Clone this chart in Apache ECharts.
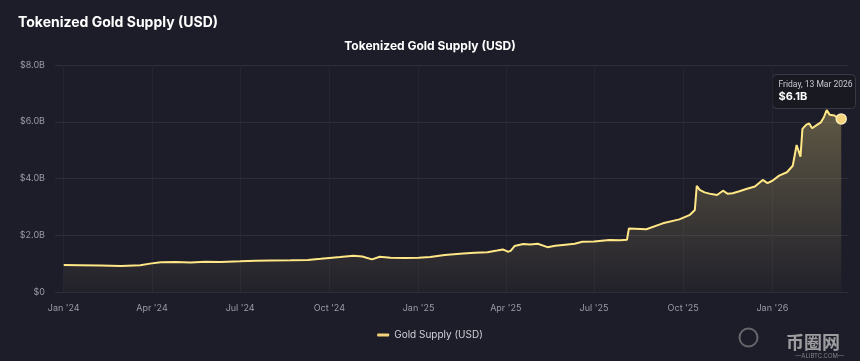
<!DOCTYPE html>
<html>
<head>
<meta charset="utf-8">
<script src="https://cdn.jsdelivr.net/npm/echarts@6/dist/echarts.min.js"></script>
<style>
html,body{margin:0;padding:0;background:#1d1d29;}
#c{width:860px;height:361px;}
</style>
</head>
<body>
<div id="c"></div>
<script>
const dates = [
'2024-01-01','2024-01-18','2024-02-08','2024-02-29','2024-03-20','2024-03-30','2024-04-10','2024-04-25','2024-05-11','2024-05-26',
'2024-06-11','2024-07-01','2024-07-17','2024-08-01','2024-08-22','2024-09-09','2024-09-22','2024-10-01','2024-10-12','2024-10-26',
'2024-11-04','2024-11-14','2024-11-22','2024-12-03','2024-12-18','2025-01-01','2025-01-13','2025-01-28','2025-02-16','2025-02-28',
'2025-03-13','2025-03-23','2025-03-29','2025-04-03','2025-04-06','2025-04-10','2025-04-19','2025-04-26','2025-05-04','2025-05-14',
'2025-05-22','2025-05-30','2025-06-11','2025-06-19','2025-07-01','2025-07-17','2025-07-28','2025-08-04','2025-08-06','2025-08-24',
'2025-09-10','2025-09-27','2025-10-08','2025-10-13','2025-10-15','2025-10-18','2025-10-23','2025-10-30','2025-11-05','2025-11-11',
'2025-11-16','2025-11-21','2025-11-28','2025-12-05','2025-12-14','2025-12-22','2025-12-27','2026-01-01','2026-01-08','2026-01-16',
'2026-01-22','2026-01-26','2026-01-30','2026-02-01','2026-02-05','2026-02-08','2026-02-11','2026-02-16','2026-02-20','2026-02-23',
'2026-02-26','2026-03-01','2026-03-03','2026-03-06','2026-03-09','2026-03-13'
];
const supplyB = [
0.95,0.94,0.93,0.92,0.94,1.00,1.05,1.06,1.04,1.07,
1.06,1.08,1.10,1.11,1.12,1.13,1.17,1.20,1.23,1.28,
1.25,1.15,1.24,1.21,1.20,1.21,1.23,1.30,1.36,1.38,
1.40,1.46,1.50,1.42,1.45,1.62,1.69,1.67,1.70,1.58,
1.63,1.66,1.70,1.77,1.78,1.83,1.82,1.84,2.24,2.21,
2.42,2.56,2.72,2.89,3.74,3.60,3.51,3.45,3.42,3.57,
3.46,3.48,3.55,3.63,3.72,3.95,3.84,3.92,4.10,4.22,
4.45,5.18,4.77,5.75,5.90,5.94,5.77,5.89,5.98,6.15,
6.41,6.25,6.18,6.22,6.15,6.10
];
const quarterTicks = ['2024-01-01','2024-04-01','2024-07-01','2024-10-01','2025-01-01','2025-04-01','2025-07-01','2025-10-01','2026-01-01'];

const MONTHS = ['Jan','Feb','Mar','Apr','May','Jun','Jul','Aug','Sep','Oct','Nov','Dec'];
const DAYS = ['Sunday','Monday','Tuesday','Wednesday','Thursday','Friday','Saturday'];
const ts = s => { const p = s.split('-'); return Date.UTC(+p[0], +p[1]-1, +p[2]); };
const data = dates.map((d,i)=>[ts(d), supplyB[i]]);
const gold = '#f3d27a';
const last = data[data.length-1];
const lastDate = new Date(last[0]);
const tipDate = DAYS[lastDate.getUTCDay()] + ', ' + lastDate.getUTCDate() + ' ' + MONTHS[lastDate.getUTCMonth()] + ' ' + lastDate.getUTCFullYear();
const tipValue = '$' + last[1].toFixed(1) + 'B';

const chart = echarts.init(document.getElementById('c'), null, {renderer:'canvas'});
chart.setOption({
  backgroundColor:'#1d1d29',
  animation:false,
  title:[
    {text:'Tokenized Gold Supply (USD)', left:13, top:11, textStyle:{color:'#ffffff', fontSize:14, fontWeight:'bold', fontFamily:'Inter'}},
    {text:'Tokenized Gold Supply (USD)', left:'center', top:35, textStyle:{color:'#ffffff', fontSize:12, fontWeight:'bold', fontFamily:'Inter'}}
  ],
  grid:{left:55, right:12, top:65, bottom:69, containLabel:false},
  xAxis:{
    type:'value',
    min: ts('2023-12-23'),
    max: ts('2026-03-20'),
    axisLine:{show:false},
    axisTick:{show:false},
    splitLine:{show:false},
    axisLabel:{
      customValues: quarterTicks.map(ts),
      color:'#9a9aa8', fontSize:9, fontFamily:'Inter', margin:12,
      formatter: v => { const d = new Date(v); return MONTHS[d.getUTCMonth()] + " '" + String(d.getUTCFullYear()).slice(2); }
    }
  },
  yAxis:{
    type:'value', min:0, max:8, interval:2,
    axisLine:{show:false}, axisTick:{show:false},
    splitLine:{lineStyle:{color:'#2c2c3a', width:1}},
    axisLabel:{color:'#9a9aa8', fontSize:9, fontFamily:'Inter', margin:10,
      formatter: v => v === 0 ? '$0' : '$' + v.toFixed(1) + 'B'}
  },
  legend:{
    bottom:16, left:'center', itemWidth:12, itemHeight:3,
    icon:'roundRect',
    textStyle:{color:'#d0d0d8', fontSize:10, fontFamily:'Inter'},
    data:['Gold Supply (USD)']
  },
  series:[{
    name:'quarters',
    type:'line',
    data:[],
    z:1,
    silent:true,
    markLine:{
      z:1,
      silent:true, symbol:'none', label:{show:false},
      lineStyle:{color:'#242432', width:1, type:'solid'},
      emphasis:{disabled:true},
      data: quarterTicks.map(q=>({xAxis: ts(q)}))
    }
  },{
    name:'Gold Supply (USD)',
    type:'line',
    z:3,
    data:data,
    showSymbol:false,
    symbol:'circle',
    symbolSize:10,
    lineStyle:{color:gold, width:2},
    itemStyle:{color:gold},
    emphasis:{scale:1, itemStyle:{color:'#f3d27a', borderColor:'#fbe9b8', borderWidth:1.5}},
    areaStyle:{color:new echarts.graphic.LinearGradient(0,0,0,1,[
      {offset:0, color:'rgba(243,210,122,0.42)'},
      {offset:1, color:'rgba(243,210,122,0.03)'}
    ])}
  }],
  graphic:[
    {type:'group', left:772, top:74, z:100, children:[
      {type:'rect', shape:{x:0, y:0, width:83, height:34, r:4}, style:{fill:'#191922', stroke:'#383846', lineWidth:1}},
      {type:'text', x:6, y:6, style:{text:tipDate, fill:'#c8c8d2', fontSize:8.5, fontFamily:'Roboto'}},
      {type:'text', x:6, y:17, style:{text:tipValue, fill:'#ffffff', fontSize:11, fontWeight:'bold', fontFamily:'Inter'}}
    ]},
    {type:'circle', right:100, bottom:12, shape:{r:9}, style:{fill:'none', stroke:'rgba(190,190,190,0.45)', lineWidth:2}},
    {type:'text', right:20, bottom:10, style:{text:'币圈网', fill:'rgba(200,200,200,0.75)', fontSize:18, fontWeight:'bold', fontFamily:'Noto Sans CJK SC'}},
    {type:'text', right:16, bottom:2, style:{text:'—ALIBTC.COM—', fill:'rgba(170,170,170,0.7)', fontSize:6, fontFamily:'Inter'}}
  ]
});
chart.dispatchAction({type:'highlight', seriesIndex:1, dataIndex:data.length-1});
</script>
</body>
</html>
